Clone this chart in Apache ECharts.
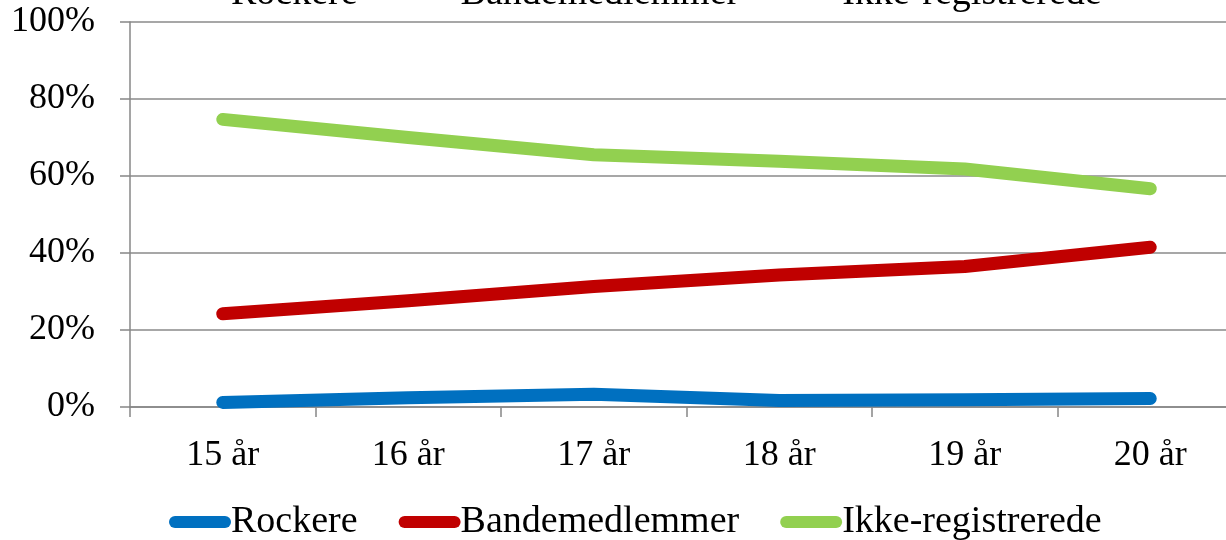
<!DOCTYPE html>
<html>
<head>
<meta charset="utf-8">
<script src="https://cdn.jsdelivr.net/npm/echarts@6/dist/echarts.min.js"></script>
<style>html,body{margin:0;padding:0;background:#fff;overflow:hidden;width:1226px;height:540px}#c{width:1260px;height:540px}</style>
</head>
<body>
<div id="c"></div>
<script>
const categories = ['15 år', '16 år', '17 år', '18 år', '19 år', '20 år'];
const seriesNames = ['Rockere', 'Bandemedlemmer', 'Ikke-registrerede'];
const rockere = [1.2, 2.4, 3.3, 1.7, 1.9, 2.2];
const bandemedlemmer = [24.2, 27.6, 31.3, 34.3, 36.5, 41.5];
const ikkeRegistrerede = [74.7, 70.0, 65.5, 63.8, 61.8, 56.7];
const colors = ['#0070C0', '#C00000', '#92D050'];

const font = 'Liberation Serif, Times New Roman, serif';
const pill = 'path://M6,0 H56 A6,6 0 0 1 56,12 H6 A6,6 0 0 1 6,0 Z';
const legendBase = {
  data: seriesNames,
  left: 164,
  icon: pill,
  itemWidth: 62,
  itemHeight: 12,
  itemGap: 41,
  textStyle: { fontFamily: font, fontSize: 38, color: '#000', padding: [0, 0, 0, -5] },
  selectedMode: false
};
const chart = echarts.init(document.getElementById('c'));
const mk = (name, data, color) => ({
  name, type: 'line', data, color,
  symbol: 'none', showSymbol: false, smooth: false,
  lineStyle: { width: 13, color, cap: 'round', join: 'round' },
  itemStyle: { color },
  animation: false
});
chart.setOption({
  animation: false,
  color: colors,
  legend: [
    Object.assign({}, legendBase, { top: 498 }),
    Object.assign({}, legendBase, { top: -30 })
  ],
  grid: { left: 130, top: 22, width: 1113, height: 385, containLabel: false },
  xAxis: {
    type: 'category',
    data: categories,
    boundaryGap: true,
    axisLine: { lineStyle: { color: '#878787', width: 1.5 } },
    axisTick: { show: true, length: 10, alignWithLabel: false, lineStyle: { color: '#878787', width: 1.5 } },
    axisLabel: { fontFamily: font, fontSize: 36, color: '#000', margin: 31 },
    splitLine: { show: false }
  },
  yAxis: {
    type: 'value',
    min: 0, max: 100, interval: 20,
    axisLine: { show: true, lineStyle: { color: '#878787', width: 1.5 } },
    axisTick: { show: true, inside: false, length: 10, lineStyle: { color: '#878787', width: 1.5 } },
    axisLabel: { fontFamily: font, fontSize: 36, color: '#000', margin: 35, formatter: '{value}%' },
    splitLine: { show: true, lineStyle: { color: '#8a8a8a', width: 1.5 } }
  },
  series: [
    mk(seriesNames[0], rockere, colors[0]),
    mk(seriesNames[1], bandemedlemmer, colors[1]),
    mk(seriesNames[2], ikkeRegistrerede, colors[2])
  ]
});
</script>
</body>
</html>
